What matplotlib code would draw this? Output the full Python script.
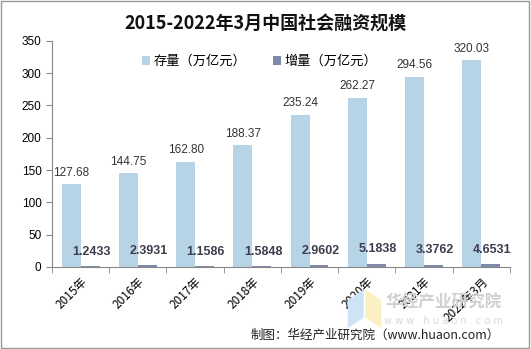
import matplotlib.pyplot as plt
import numpy as np

plt.rcParams['font.family'] = ['Noto Sans CJK SC', 'DejaVu Sans']

years = ['2015年', '2016年', '2017年', '2018年', '2019年', '2020年', '2021年', '2022年3月']
stock = [127.68, 144.75, 162.80, 188.37, 235.24, 262.27, 294.56, 320.03]
increment = [1.2433, 2.3931, 1.1586, 1.5848, 2.9602, 5.1838, 3.3762, 4.6531]
stock_labels = ['127.68', '144.75', '162.80', '188.37', '235.24', '262.27', '294.56', '320.03']
inc_labels = ['1.2433', '2.3931', '1.1586', '1.5848', '2.9602', '5.1838', '3.3762', '4.6531']

num_font = 'Liberation Sans'

fig = plt.figure(figsize=(5.31, 3.49), dpi=100)
ax = fig.add_axes([0.098, 0.235, 0.862, 0.648])

x = np.arange(len(years))
w = 0.33
b1 = ax.bar(x - w / 2, stock, w, color='#b7d4e6', label='存量（万亿元）')
b2 = ax.bar(x + w / 2, increment, w, color='#7f8aab', label='增量（万亿元）')

for rect, s in zip(b1, stock_labels):
    ax.annotate(s, (rect.get_x() + rect.get_width() / 2, rect.get_height()),
                xytext=(0, 4), textcoords='offset points', ha='center', va='bottom',
                fontsize=8.5, color='#333333', family=num_font)
for rect, s in zip(b2, inc_labels):
    ax.annotate(s, (rect.get_x() + rect.get_width() / 2, rect.get_height()),
                xytext=(1, 6), textcoords='offset points', ha='center', va='bottom',
                fontsize=9, color='#3d3d4d', fontweight='bold', family=num_font)

ax.set_xlim(-0.5, len(years) - 0.5)
ax.set_ylim(0, 350)
ax.set_yticks(range(0, 351, 50))
ax.set_xticks(x)
ax.set_xticklabels(years, rotation=45, ha='right', rotation_mode='anchor', fontsize=8.5)
ax.set_xticks(np.arange(-0.5, len(years), 1), minor=True)
ax.tick_params(axis='x', which='major', length=0, pad=6)
ax.tick_params(axis='x', which='minor', length=4, color='#888888')
ax.tick_params(axis='y', length=4, color='#888888', labelsize=8.5)
for lab in ax.get_yticklabels():
    lab.set_family(num_font)
for side in ['top', 'right']:
    ax.spines[side].set_visible(False)
for side in ['left', 'bottom']:
    ax.spines[side].set_color('#888888')

ax.legend(loc='upper center', bbox_to_anchor=(0.454, 0.99), ncol=2, frameon=False,
          fontsize=9.5, handlelength=0.6, handleheight=0.6, columnspacing=2.0, handletextpad=0.3)

fig.text(0.5, 0.935, '2015-2022年3月中国社会融资规模', ha='center', va='center',
         fontsize=13, fontweight='bold', color='#111111')

# watermark
fig.patches.append(plt.Polygon([(0.655, 0.06), (0.685, 0.09), (0.685, 0.17), (0.655, 0.14)],
                               closed=True, transform=fig.transFigure,
                               facecolor='#cfe3f7', edgecolor='none'))
fig.patches.append(plt.Polygon([(0.688, 0.09), (0.718, 0.06), (0.718, 0.14), (0.688, 0.17)],
                               closed=True, transform=fig.transFigure,
                               facecolor='#fbf0c4', edgecolor='none'))
fig.text(0.835, 0.135, '华经产业研究院', ha='center', va='center', fontsize=12,
         color='#d0d0d0', fontweight='bold')
fig.text(0.835, 0.08, 'w w w . h u a o n . c o m', ha='center', va='center', fontsize=7,
         color='#d8d8d8', family='DejaVu Sans')

fig.text(0.942, 0.04, '制图：华经产业研究院（www.huaon.com）', ha='right', va='center',
         fontsize=9, color='#222222')

fig.patches.append(plt.Rectangle((0.002, 0.003), 0.995, 0.994, transform=fig.transFigure,
                                 fill=False, edgecolor='#999999', linewidth=1))

fig.savefig('out.png', dpi=100)
